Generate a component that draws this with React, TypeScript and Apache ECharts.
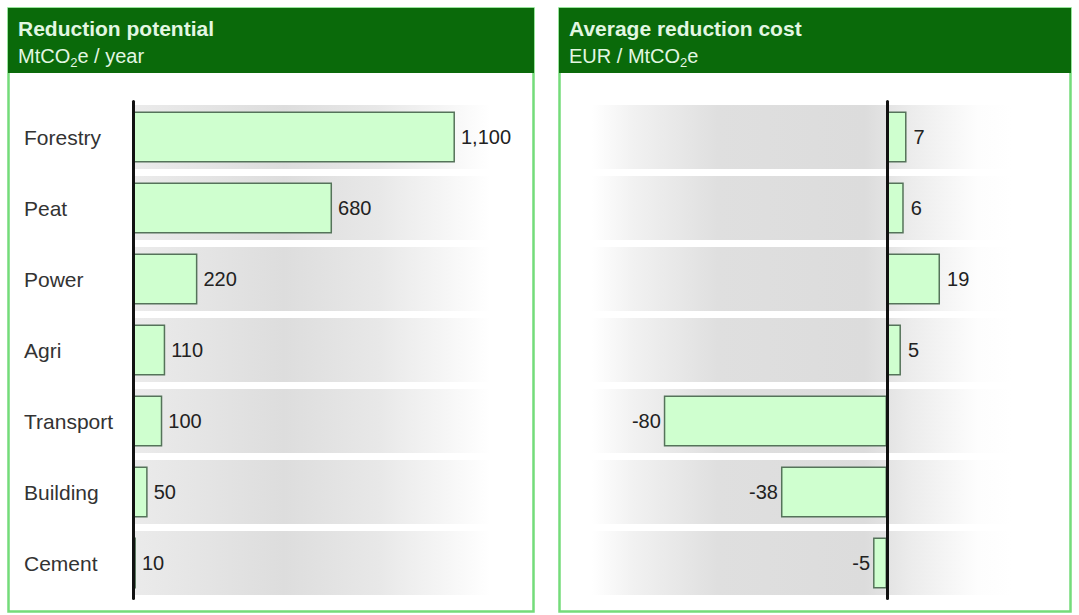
import React, { useEffect, useRef } from "react";
import * as echarts from "echarts";

const categories = ["Forestry", "Peat", "Power", "Agri", "Transport", "Building", "Cement"];
const reductionPotential = [1100, 680, 220, 110, 100, 50, 10];
const reductionCost = [7, 6, 19, 5, -80, -38, -5];
const bandFill = [1, 1, 1, 1, 1, 1, 1];

const leftTitle = "Reduction potential";
const rightTitle = "Average reduction cost";

const FONT = "'Liberation Sans', Arial, Helvetica, sans-serif";
const BAR_FILL = "#cfffcf";
const BAR_BORDER = "#55735a";
const HEADER = "#0a6a0a";
const FRAME = "#74dc7a";
const HEADER_TEXT = "#e2f7e2";

export default function App() {
  const ref = useRef<HTMLDivElement>(null);

  useEffect(() => {
    document.body.style.margin = "0";
    const chart = echarts.init(ref.current!, null, { renderer: "svg" });

    const top = 101.5;
    const height = 497;

    const leftGrad = {
      type: "linear", x: 0, y: 0, x2: 1, y2: 0,
      colorStops: [
        { offset: 0, color: "#ebebeb" },
        { offset: 0.38, color: "#dddddd" },
        { offset: 0.62, color: "#e8e8e8" },
        { offset: 0.9, color: "#ffffff" },
        { offset: 1, color: "#ffffff" },
      ],
    };
    const rightGrad = {
      type: "linear", x: 0, y: 0, x2: 1, y2: 0,
      colorStops: [
        { offset: 0, color: "#ffffff" },
        { offset: 0.1, color: "#f1f1f1" },
        { offset: 0.3, color: "#dfdfdf" },
        { offset: 0.65, color: "#dcdcdc" },
        { offset: 0.76, color: "#ececec" },
        { offset: 0.92, color: "#fdfdfd" },
        { offset: 1, color: "#ffffff" },
      ],
    };

    const valueLabel = {
      show: true,
      fontSize: 20,
      fontFamily: FONT,
      color: "#222",
    };

    const titleText = (x: number, t: string) => ({
      type: "text",
      x,
      y: 28,
      style: {
        text: t,
        fill: HEADER_TEXT,
        fontSize: 21,
        fontWeight: "bold",
        fontFamily: FONT,
        textVerticalAlign: "middle",
      },
    });
    const subText = (x: number, t: string) => ({
      type: "text",
      x,
      y: 56,
      style: {
        text: t,
        fill: HEADER_TEXT,
        fontFamily: FONT,
        textVerticalAlign: "middle",
        rich: {
          a: { fontSize: 20, fontFamily: FONT, fill: HEADER_TEXT },
          b: { fontSize: 13, fontFamily: FONT, fill: HEADER_TEXT, padding: [12, 0, 0, 0] },
        },
      },
    });

    chart.setOption({
      animation: false,
      backgroundColor: "#ffffff",
      grid: [
        { left: 133, top, width: 397, height },
        { left: 133, top, width: 380.5, height },
        { left: 592, top, width: 420, height },
        { left: 608, top, width: 446.4, height },
      ],
      xAxis: [
        { gridIndex: 0, type: "value", min: 0, max: 1, show: false },
        { gridIndex: 1, type: "value", min: 0, max: 1300, show: false },
        { gridIndex: 2, type: "value", min: 0, max: 1, show: false },
        { gridIndex: 3, type: "value", min: -100, max: 60, show: false },
      ],
      yAxis: [
        { gridIndex: 0, type: "category", data: categories, inverse: true, show: false },
        {
          gridIndex: 1,
          type: "category",
          data: categories,
          inverse: true,
          z: 5,
          axisLine: { show: true, lineStyle: { color: "#111", width: 3 } },
          axisTick: { show: false },
          splitLine: { show: false },
          axisLabel: {
            align: "left",
            margin: 109,
            fontSize: 21,
            fontFamily: FONT,
            color: "#333",
          },
        },
        { gridIndex: 2, type: "category", data: categories, inverse: true, show: false },
        {
          gridIndex: 3,
          type: "category",
          data: categories,
          inverse: true,
          z: 5,
          axisLine: { show: true, onZero: true, lineStyle: { color: "#111", width: 3 } },
          axisTick: { show: false },
          axisLabel: { show: false },
          splitLine: { show: false },
        },
      ],
      series: [
        {
          type: "bar",
          xAxisIndex: 0,
          yAxisIndex: 0,
          data: bandFill,
          barWidth: 64,
          silent: true,
          itemStyle: { color: leftGrad },
        },
        {
          type: "bar",
          xAxisIndex: 1,
          yAxisIndex: 1,
          data: reductionPotential,
          barWidth: 51,
          itemStyle: { color: BAR_FILL, borderColor: BAR_BORDER, borderWidth: 1.5 },
          label: {
            ...valueLabel,
            position: "right",
            distance: 6,
            formatter: (p: any) => Number(p.value).toLocaleString("en-US"),
          },
        },
        {
          type: "bar",
          xAxisIndex: 2,
          yAxisIndex: 2,
          data: bandFill,
          barWidth: 64,
          silent: true,
          itemStyle: { color: rightGrad },
        },
        {
          type: "bar",
          xAxisIndex: 3,
          yAxisIndex: 3,
          data: reductionCost.map((v) => ({
            value: v,
            label: { position: v < 0 ? "left" : "right", distance: v < 0 ? 3 : 7 },
          })),
          barWidth: 51,
          itemStyle: { color: BAR_FILL, borderColor: BAR_BORDER, borderWidth: 1.5 },
          label: { ...valueLabel },
        },
      ],
      graphic: [
        {
          type: "rect",
          shape: { x: 8.5, y: 8.5, width: 525, height: 603 },
          style: { fill: "none", stroke: FRAME, lineWidth: 2.5 },
          z: 10,
        },
        {
          type: "rect",
          shape: { x: 8, y: 8, width: 526, height: 65 },
          style: { fill: HEADER },
          z: 11,
        },
        {
          type: "rect",
          shape: { x: 559.5, y: 8.5, width: 511, height: 603 },
          style: { fill: "none", stroke: FRAME, lineWidth: 2.5 },
          z: 10,
        },
        {
          type: "rect",
          shape: { x: 559, y: 8, width: 512, height: 65 },
          style: { fill: HEADER },
          z: 11,
        },
        { ...titleText(18, leftTitle), z: 12 },
        { ...subText(18, "{a|MtCO}{b|2}{a|e / year}"), z: 12 },
        { ...titleText(569, rightTitle), z: 12 },
        { ...subText(569, "{a|EUR / MtCO}{b|2}{a|e}"), z: 12 },
      ],
    });

    return () => chart.dispose();
  }, []);

  return <div ref={ref} style={{ width: 1079, height: 615 }} />;
}
